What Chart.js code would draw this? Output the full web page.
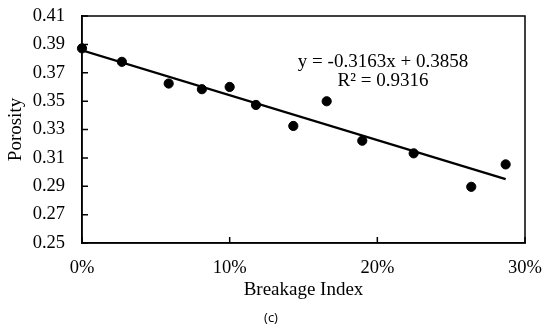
<!DOCTYPE html>
<html>
<head>
<meta charset="utf-8">
<script src="https://cdn.jsdelivr.net/npm/chart.js@4.4.1/dist/chart.umd.min.js"></script>
<style>
  html, body { margin: 0; padding: 0; background: #ffffff; }
  #wrap { width: 550px; height: 328px; position: relative; }
</style>
</head>
<body>
<div id="wrap"><canvas id="c" width="550" height="328"></canvas></div>
<script>
// ---- data ----
const breakageIndex = [0.000, 0.027, 0.0587, 0.0812, 0.100, 0.1178, 0.1431, 0.1657, 0.1898, 0.2246, 0.2636, 0.2869];
const porosity      = [0.3872, 0.3777, 0.3624, 0.3584, 0.3600, 0.3473, 0.3325, 0.3499, 0.3221, 0.3132, 0.2896, 0.3054];
const trendSlope = -0.3163;
const trendIntercept = 0.3858;
const equationLines = ["y = -0.3163x + 0.3858", "R² = 0.9316"];
const xTicks = [0, 0.1, 0.2, 0.3];
const yTicks = [0.25, 0.27, 0.29, 0.31, 0.33, 0.35, 0.37, 0.39, 0.41];
const xTitle = "Breakage Index";
const yTitle = "Porosity";
const panelLabel = "(c)";

const points = breakageIndex.map((x, i) => ({ x: x, y: porosity[i] }));
const xMin = Math.min(...breakageIndex), xMax = Math.max(...breakageIndex);
const trendPoints = [xMin, xMax].map(x => ({ x: x, y: trendSlope * x + trendIntercept }));

const SERIF = "'Liberation Serif', 'Times New Roman', serif";

const decor = {
  id: 'decor',
  afterDraw(chart) {
    const { ctx, chartArea: a, scales } = chart;
    ctx.save();
    ctx.strokeStyle = '#000';
    ctx.lineWidth = 1.5;
    ctx.strokeRect(a.left, a.top, a.right - a.left, a.bottom - a.top);
    // inside tick marks
    ctx.beginPath();
    yTicks.forEach(v => {
      const y = scales.y.getPixelForValue(v);
      ctx.moveTo(a.left, y); ctx.lineTo(a.left + 6, y);
    });
    xTicks.forEach(v => {
      const x = scales.x.getPixelForValue(v);
      ctx.moveTo(x, a.bottom); ctx.lineTo(x, a.bottom - 6);
    });
    ctx.stroke();
    // equation
    ctx.fillStyle = '#000';
    ctx.textAlign = 'center';
    ctx.textBaseline = 'middle';
    ctx.font = "19px " + SERIF;
    ctx.fillText(equationLines[0], 383, 62);
    ctx.fillText(equationLines[1], 383, 81);
    // panel label
    ctx.font = "13px 'Open Sans', sans-serif";
    ctx.fillText(panelLabel, 271, 318);
    ctx.restore();
  }
};

new Chart(document.getElementById('c'), {
  type: 'scatter',
  data: {
    datasets: [
      {
        type: 'line',
        data: trendPoints,
        borderColor: '#000',
        borderWidth: 2.2,
        pointRadius: 0,
        fill: false,
        order: 2
      },
      {
        data: points,
        backgroundColor: '#000',
        borderColor: '#000',
        pointRadius: 4.6,
        pointHoverRadius: 4.6,
        clip: false,
        order: 1
      }
    ]
  },
  options: {
    responsive: false,
    animation: false,
    events: [],
    layout: { padding: { top: 16, right: 25, left: 0, bottom: 0 } },
    plugins: { legend: { display: false }, tooltip: { enabled: false } },
    scales: {
      x: {
        type: 'linear',
        min: 0, max: 0.3,
        afterBuildTicks(scale) { scale.ticks = xTicks.map(v => ({ value: v })); },
        afterFit(scale) { scale.height = 85; scale.paddingLeft = 0; scale.paddingRight = 0; },
        grid: { display: false, drawTicks: false },
        border: { display: true, color: '#000', width: 1.5 },
        ticks: {
          color: '#000',
          padding: 14,
          maxRotation: 0,
          font: { family: SERIF, size: 18.5 },
          callback: v => Math.round(v * 100) + '%'
        },
        title: {
          display: true, text: xTitle, color: '#000',
          font: { family: SERIF, size: 19 },
          padding: { top: 0, bottom: 27 }
        }
      },
      y: {
        type: 'linear',
        min: 0.25, max: 0.41,
        afterBuildTicks(scale) { scale.ticks = yTicks.map(v => ({ value: v })); },
        afterFit(scale) { scale.width = 82; scale.paddingTop = 0; scale.paddingBottom = 0; },
        grid: { display: false, drawTicks: false },
        border: { display: true, color: '#000', width: 1.5 },
        ticks: {
          color: '#000',
          padding: 17,
          font: { family: SERIF, size: 18.5 },
          callback: v => v.toFixed(2)
        },
        title: {
          display: true, text: yTitle, color: '#000',
          font: { family: SERIF, size: 19 },
          padding: { top: 5, bottom: 0 }
        }
      }
    }
  },
  plugins: [decor]
});
</script>
</body>
</html>
